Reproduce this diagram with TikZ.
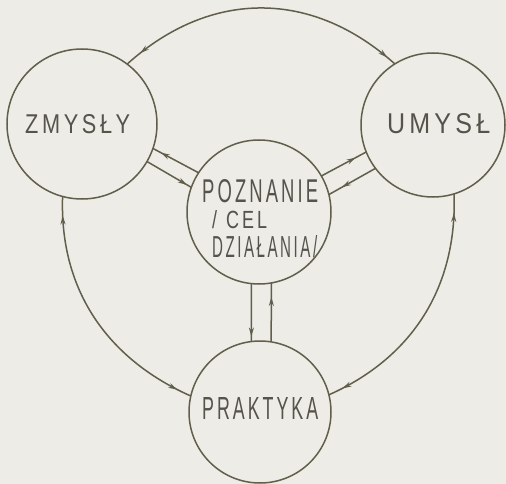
\documentclass[tikz,border=0pt]{standalone}
\usepackage{fontspec}
\setmainfont{Liberation Sans}
\usepackage{graphicx}
\usetikzlibrary{arrows.meta,decorations.markings}
\definecolor{bgc}{HTML}{EDECE6}
\definecolor{ink}{HTML}{625E4C}
\definecolor{txt}{HTML}{55534A}
\tikzset{
  headtip/.tip={Stealth[length=9pt,width=5pt]},
  ring/.style={circle, draw=ink, line width=1.5pt, inner sep=0pt, outer sep=0pt},
  lbl/.style={text=txt, inner sep=0pt, anchor=base west},
  conn/.style={color=ink, line width=1.5pt},
  tipfwd/.style={postaction={decorate, decoration={markings, mark=at position #1 with {\arrow{headtip}}}}},
  tipback/.style={postaction={decorate, decoration={markings, mark=at position #1 with {\arrowreversed{headtip}}}}}
}
\begin{document}
\begin{tikzpicture}[x=1pt,y=1pt]
\useasboundingbox (0,0) rectangle (506,-484);
\fill[bgc] (0,0) rectangle (506,-484);
% circles
\node[ring, minimum size=150pt] (zm) at (82,-124) {};
\node[ring, minimum size=144pt] (um) at (433,-125) {};
\node[ring, minimum size=144pt] (poz) at (259,-212) {};
\node[ring, minimum size=142pt] (prak) at (260,-412) {};
% labels
\node[lbl] (zmt) at (25,-134) {\resizebox{105pt}{19pt}{Z\,M\,Y\,S\,Ł\,Y}};
\node[lbl] (umt) at (387,-133) {\resizebox{103pt}{20pt}{U\,M\,Y\,S\,Ł}};
\node[lbl] (prt) at (202,-419) {\resizebox{116pt}{22pt}{P\,R\,A\,K\,T\,Y\,K\,A}};
\node[lbl] (pz1) at (202,-202) {\resizebox{116pt}{23pt}{P\,O\,Z\,N\,A\,N\,I\,E}};
\node[lbl] (pz2) at (212,-228) {\resizebox{55pt}{18pt}{/\enspace C\,E\,L}};
\node[lbl] (pz3) at (212,-257) {\resizebox{105pt}{22pt}{D\,Z\,I\,A\,Ł\,A\,N\,I\,A\,/}};
% outer arcs
\draw[conn, tipback=17pt, tipfwd=-10pt] (zm.53) to[out=42,in=138,looseness=1.07] (um.122);
\draw[conn, tipback=19pt, tipfwd=-15pt] (zm.-105) to[out=-92,in=156] (prak.167);
\draw[conn, tipback=19pt, tipfwd=-15pt] (um.-73) to[out=-88,in=24] (prak.14);
% ZMYSLY - POZNANIE
\draw[conn, tipback=9pt] (zm.-19) -- (poz.147);
\draw[conn, tipfwd=-5pt] (zm.-30) -- (poz.160);
% POZNANIE - UMYSL
\draw[conn, tipfwd=-12pt] (poz.30) -- (um.-158);
\draw[conn, tipfwd=-15pt] (um.-143) -- (poz.14);
% POZNANIE - PRAKTYKA
\draw[conn, tipfwd=-5pt] (poz.-96) -- (prak.97);
\draw[conn, tipfwd=-14pt] (prak.81) -- (poz.-80);
\end{tikzpicture}
\end{document}
